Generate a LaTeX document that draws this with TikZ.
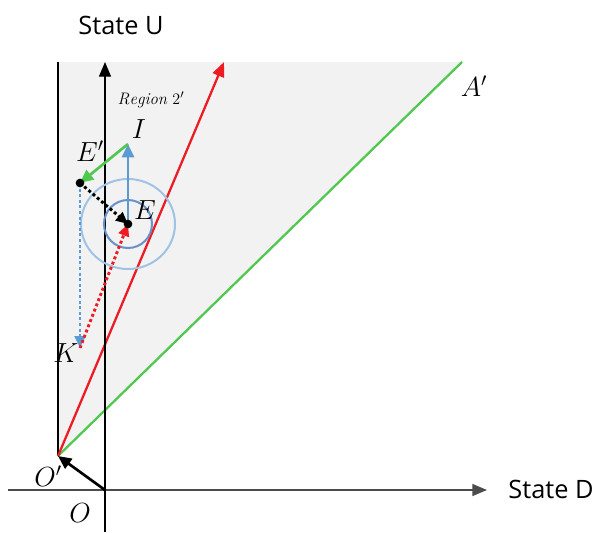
\documentclass[tikz,border=0pt]{standalone}
\usepackage{fontspec}
\newfontfamily\axisfont{Open Sans}
\usetikzlibrary{arrows.meta}
\definecolor{regiongray}{RGB}{242,242,242}
\definecolor{pathred}{RGB}{237,28,36}
\definecolor{linegreen}{RGB}{80,200,80}
\definecolor{moveblue}{RGB}{91,155,213}
\definecolor{ringblue}{RGB}{160,195,228}
\definecolor{ringdark}{RGB}{105,145,200}
\tikzset{
  axis/.style={line width=1pt,-{Triangle[length=11pt,width=9pt]}},
  border/.style={line width=0.9pt},
  redpath/.style={line width=1.7pt,pathred,-{Triangle[length=11pt,width=9pt]}},
  greenline/.style={line width=1.7pt,linegreen},
  ring/.style={line width=1.5pt},
  move/.style={line width=2pt,-{Triangle[length=10pt,width=9pt]}},
  dotmove/.style={line width=2.2pt,dotted,-{Triangle[length=9pt,width=8pt]}},
  pt/.style={circle,fill=black,inner sep=0pt,minimum size=6.5pt},
  axlbl/.style={font=\axisfont\fontsize{19}{21}\selectfont},
  lbl/.style={font=\fontsize{20}{22}\selectfont},
}
\begin{document}
\begin{tikzpicture}[x=0.75pt,y=-0.75pt]
  \useasboundingbox (0,0) rectangle (598,532);
  % corner points of the region
  \coordinate (O) at (105,490);
  \coordinate (Op) at (58,456);
  \coordinate (lefttop) at (58,62);
  \coordinate (Atop) at (462,62);
  \coordinate (Rtop) at (224,62);
  \coordinate (Utop) at (105,62);
  \coordinate (Ubot) at (105,532);
  \coordinate (Dleft) at (8,490);
  \coordinate (Dend) at (487,490);
  % shaded region between the left border and A'
  \fill[regiongray] (lefttop) -- (Atop) -- (Op) -- cycle;
  \draw[border] (lefttop) -- (Op);
  \draw[greenline] (Op) -- (Atop);
  \draw[redpath] (Op) -- (Rtop);
  % axes
  \draw[axis,black!70] (Dleft) -- (Dend);
  \draw[axis] (Ubot) -- (Utop);
  \draw[move] (O) -- (Op);
  % points around E
  \coordinate (E) at (128,224);
  \coordinate (I) at (128,144);
  \coordinate (Ep) at (80,183);
  \coordinate (K) at (80,348);
  \draw[ring,ringblue] (E) ellipse (47 and 45);
  \draw[ring,ringdark] (E) circle (24);
  \draw[move,moveblue] (E) -- (I);
  \draw[move,linegreen] (I) -- (Ep);
  \draw[dotmove,moveblue] (Ep) -- (K);
  \draw[dotmove,pathred] (K) -- (E);
  \draw[dotmove,black] (Ep) -- (E);
  \node[pt] (Edot) at (E) {};
  \node[pt] (Epdot) at (Ep) {};
  % labels
  \node[axlbl] (stateU) at (121,25) {State U};
  \node[axlbl] (stateD) at (551,489) {State D};
  \node[font=\fontsize{12.5}{14}\selectfont] (region) at (151,100) {$\mathit{Region}\ 2'$};
  \node[lbl] (Ilbl) at (139,129) {$I$};
  \node[lbl] (Elbl) at (145,210) {$E$};
  \node[lbl] (Eplbl) at (90,151) {$E'$};
  \node[lbl] (Klbl) at (66,353) {$K$};
  \node[lbl] (Aplbl) at (474,86) {$A'$};
  \node[lbl] (Oplbl) at (48,476) {$O'$};
  \node[lbl] (Olbl) at (80,513) {$O$};
\end{tikzpicture}
\end{document}
